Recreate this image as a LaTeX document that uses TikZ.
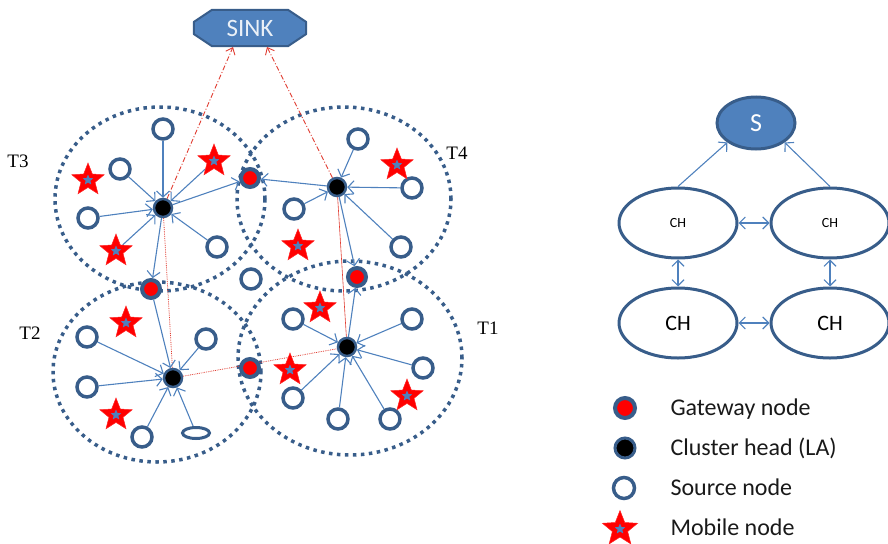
\documentclass[tikz,border=0pt]{standalone}
\usepackage{fontspec}
\setmainfont{Carlito}
\newfontfamily\tfont{Liberation Serif}
\usetikzlibrary{arrows.meta,shapes.geometric,backgrounds}
\definecolor{nodeb}{HTML}{385D8A}
\definecolor{arrb}{HTML}{4F81BD}
\definecolor{redl}{HTML}{E03C31}
\newcommand\mob[2]{\node[mobile] (#1) at (#2) {}; \node[bluestar] (#1c) at (#2) {};}
\begin{document}
\begin{tikzpicture}[x=1pt,y=-1pt,
  cluster/.style={ellipse, draw=nodeb, line width=3.5pt, dash pattern=on 3.5pt off 4.5pt, inner sep=0pt},
  src/.style={circle, draw=nodeb, line width=3.5pt, fill=white, minimum size=20pt, inner sep=0pt},
  gw/.style={circle, draw=nodeb, line width=4pt, fill=red, minimum size=18pt, inner sep=0pt},
  chn/.style={circle, draw=nodeb, line width=2.5pt, fill=black, minimum size=18pt, inner sep=0pt},
  mobile/.style={star, star points=5, star point ratio=2.3, minimum size=34pt, inner sep=0pt, fill=red, draw=red!85!white, line width=0.5pt},
  bluestar/.style={star, star points=5, star point ratio=2.2, minimum size=11pt, inner sep=0pt, fill=arrb},
  flow/.style={draw=arrb, line width=1.1pt, -{Straight Barb[length=6pt,width=13pt]}},
  dbl/.style={draw=arrb, line width=1.1pt, {Straight Barb[length=6pt,width=12pt]}-{Straight Barb[length=6pt,width=12pt]}},
  sinkarr/.style={draw=redl, line width=0.9pt, dash pattern=on 5pt off 2pt on 1pt off 2pt, -{Straight Barb[length=6pt,width=10pt]}},
  redline/.style={draw=redl, line width=0.8pt, densely dotted},
  tlab/.style={font=\tfont\fontsize{19}{22}\selectfont},
  chell/.style={ellipse, draw=nodeb, line width=3pt, fill=white, minimum width=118pt, minimum height=70pt, inner sep=0pt},
  legtext/.style={anchor=base west, font=\fontsize{24}{28}\selectfont, text=black!90}
]
\useasboundingbox (0,0) rectangle (888,543);

% SINK
\node[minimum width=112pt, minimum height=36pt, inner sep=0pt,
  text=white!88!arrb, font=\fontsize{25}{28}\selectfont] (sink) at (250,28) {SINK};
\coordinate (sinkL) at (233,47);
\coordinate (sinkR) at (267,47);

% labels
\node[tlab] (t3) at (18,161) {T3};
\node[tlab] (t4) at (457,153) {T4};
\node[tlab] (t2) at (30,333) {T2};
\node[tlab] (t1) at (488,328) {T1};

% cluster heads
\node[chn] (ch3) at (163,208) {};
\node[chn] (ch4) at (337,187) {};
\node[chn] (ch2) at (173,378) {};
\node[chn] (ch1) at (347,347) {};
% gateways
\node[gw] (g34) at (250,178) {};
\node[gw] (g32) at (151,289) {};
\node[gw] (g41) at (357,277) {};
\node[gw] (g21) at (250,368) {};
% sources
\node[src] (s3a) at (163,129) {};
\node[src] (s3b) at (120,169) {};
\node[src] (s3c) at (88,218) {};
\node[src] (s3d) at (217,247) {};
\node[src] (s4a) at (358,139) {};
\node[src] (s4b) at (412,188) {};
\node[src] (s4c) at (294,209) {};
\node[src] (s4d) at (401,247) {};
\node[src] (s0) at (251,279) {};
\node[src] (s2a) at (87,337) {};
\node[src] (s2b) at (87,387) {};
\node[src] (s2c) at (206,339) {};
\node[src] (s2d) at (142,437) {};
\node[ellipse, draw=nodeb, line width=3pt, fill=white, minimum width=27pt, minimum height=11pt, inner sep=0pt] (e2) at (196,433) {};
\node[src] (s1a) at (293,319) {};
\node[src] (s1b) at (412,319) {};
\node[src] (s1c) at (423,368) {};
\node[src] (s1d) at (293,398) {};
\node[src] (s1e) at (338,419) {};
\node[src] (s1f) at (390,419) {};
% mobile nodes
\mob{m3a}{88,180}
\mob{m3b}{214,161}
\mob{m3c}{116,251}
\mob{m4a}{397,165}
\mob{m4b}{298,246}
\mob{m2a}{126,323}
\mob{m2b}{116,415}
\mob{m1a}{320,308}
\mob{m1b}{290,370}
\mob{m1c}{407,396}

\begin{pgfonlayer}{background}
% sink octagon
\draw[fill=arrb, draw=nodeb, line width=2pt, line join=round]
  ([yshift=6pt]sink.west) -- ([xshift=-38pt]sink.north) -- ([xshift=38pt]sink.north)
  -- ([yshift=6pt]sink.east) -- ([yshift=-6pt]sink.east) -- ([xshift=38pt]sink.south)
  -- ([xshift=-38pt]sink.south) -- ([yshift=-6pt]sink.west) -- cycle;
\node[cluster, minimum width=210pt, minimum height=184pt] (c3) at (160,199) {};
\node[cluster, minimum width=214pt, minimum height=184pt] (c4) at (344,199) {};
\node[cluster, minimum width=208pt, minimum height=180pt] (c2) at (157,372) {};
\node[cluster, minimum width=224pt, minimum height=194pt] (c1) at (350,358) {};
% red links
\draw[sinkarr] (ch3) -- (sinkL);
\draw[sinkarr] (ch4) -- (sinkR);
\draw[redline] (ch3) -- (ch2);
\draw[draw=redl, line width=0.6pt] (ch4) -- (ch1);
\draw[redline] (ch2) -- (ch1);
% T3
\foreach \s in {s3a,s3b,s3c,s3d,m3b,m3c} \draw[flow] (\s) -- (ch3);
\draw[flow] (ch3) -- (g34);
\draw[flow] (ch3) -- (g32);
% T4
\foreach \s in {s4a,s4b,s4c,s4d} \draw[flow] (\s) -- (ch4);
\draw[flow] (ch4) -- (g34);
\draw[flow] (ch4) -- (g41);
% T2
\foreach \s in {g32,s2a,s2b,s2c,s2d,e2} \draw[flow] (\s) -- (ch2);
% T1
\foreach \s in {s1a,s1b,s1c,s1d,s1e,s1f} \draw[flow] (\s) -- (ch1);
\draw[flow] (ch1) -- (g41);
\end{pgfonlayer}

% right diagram
\node[ellipse, draw=nodeb, line width=3pt, fill=arrb, minimum width=78pt, minimum height=52pt, inner sep=0pt,
  text=white, font=\fontsize{26}{30}\selectfont] (S) at (756,123) {S};
\node[chell, font=\fontsize{14}{16}\selectfont] (tl) at (678,223) {CH};
\node[chell, font=\fontsize{14}{16}\selectfont] (tr) at (830,223) {CH};
\node[chell, font=\fontsize{22}{26}\selectfont] (bl) at (678,323) {CH};
\node[chell, font=\fontsize{22}{26}\selectfont] (br) at (830,323) {CH};
\draw[flow] (tl.north) -- (S.south west);
\draw[flow] (tr.north) -- (S.south east);
\draw[dbl] (tl) -- (tr);
\draw[dbl] (bl) -- (br);
\draw[dbl] (tl) -- (bl);
\draw[dbl] (tr) -- (br);

% legend
\node[gw, minimum size=20pt] (lg) at (625,408) {};
\node[chn, minimum size=20pt, line width=3pt] (lc) at (625,448) {};
\node[src, minimum size=21pt] (ls) at (624,488) {};
\node[mobile, minimum size=37pt] (lm) at (620,529) {};
\node[bluestar] (lmc) at (620,529) {};
\node[legtext] (lgt) at (667,415) {Gateway node};
\node[legtext] (lct) at (667,455) {Cluster head (LA)};
\node[legtext] (lst) at (667,495) {Source node};
\node[legtext] (lmt) at (667,535) {Mobile node};
\end{tikzpicture}
\end{document}
